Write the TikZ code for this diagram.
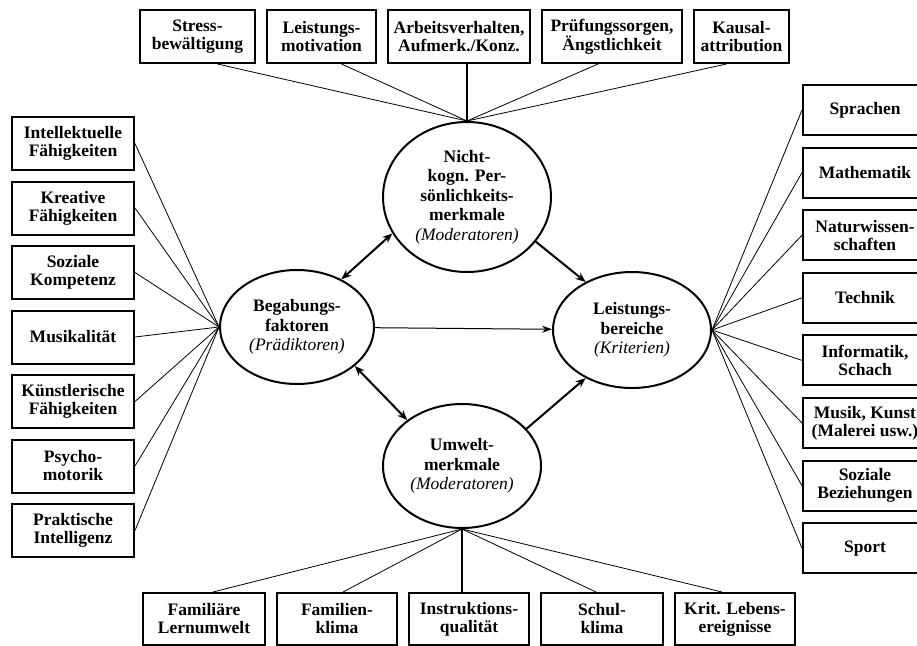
\documentclass[tikz,border=0pt]{standalone}
\usepackage{fontspec}
\setmainfont{Liberation Serif}
\usetikzlibrary{shapes.geometric, arrows.meta, positioning, calc}

\newcommand{\rolle}[1]{{\mdseries\itshape(#1)}}

\begin{document}
\begin{tikzpicture}[
        x=1pt, y=-1pt,
        node distance=10pt,
        box/.style={rectangle, draw, line width=2pt, minimum height=53pt, inner sep=2pt, align=center, font=\fontsize{17.5}{18}\selectfont\bfseries},
        lbox/.style={box, minimum width=122pt},
        rbox/.style={box, minimum width=124pt, minimum height=50pt},
        bbox/.style={box, minimum height=52pt},
        oval/.style={ellipse, draw, line width=2pt, inner sep=0pt, align=center, font=\fontsize{17.5}{19.5}\selectfont\bfseries},
        link/.style={line width=0.8pt},
        mainlink/.style={line width=2pt},
        arr/.style={line width=2pt, -{Stealth[length=10pt, width=8pt]}},
        darr/.style={line width=2pt, {Stealth[length=10pt, width=8pt]}-{Stealth[length=10pt, width=8pt]}}
    ]
        \useasboundingbox (0,0) rectangle (917,645);
        \clip (0,0) rectangle (917,645);

        % the four main factors
        \node[oval, minimum width=168pt, minimum height=150pt] (nk) at (467,197) {Nicht-\\kogn. Per-\\sönlichkeits-\\merkmale\\\rolle{Moderatoren}};
        \node[oval, minimum width=154pt, minimum height=114pt] (beg) at (297,327) {Begabungs-\\faktoren\\\rolle{Prädiktoren}};
        \node[oval, minimum width=158pt, minimum height=116pt] (leis) at (632,330) {Leistungs-\\bereiche\\\rolle{Kriterien}};
        \node[oval, minimum width=158pt, minimum height=124pt] (umw) at (462,466) {Umwelt-\\merkmale\\\rolle{Moderatoren}};

        % top row
        \node[box, minimum width=115pt] (stress) at (197.5,36.5) {Stress-\\bewältigung};
        \node[box, minimum width=109pt, right=of stress] (motiv) {Leistungs-\\motivation};
        \node[box, minimum width=142pt, right=of motiv] (arbeit) {Arbeitsverhalten,\\Aufmerk./Konz.};
        \node[box, minimum width=140pt, right=of arbeit] (pruef) {Prüfungssorgen,\\Ängstlichkeit};
        \node[box, minimum width=95pt, right=of pruef] (kausal) {Kausal-\\attribution};

        % left column
        \node[lbox] (intell) at (73,143.5) {Intellektuelle\\Fähigkeiten};
        \node[lbox, below=9.5pt of intell] (kreativ) {Kreative\\Fähigkeiten};
        \node[lbox, below=9.5pt of kreativ] (sozkomp) {Soziale\\Kompetenz};
        \node[lbox, below=9.5pt of sozkomp] (musik) {Musikalität};
        \node[lbox, below=9.5pt of musik] (kuenst) {Künstlerische\\Fähigkeiten};
        \node[lbox, below=9.5pt of kuenst] (psycho) {Psycho-\\motorik};
        \node[lbox, below=9.5pt of psycho] (prakt) {Praktische\\Intelligenz};

        % right column
        \node[rbox] (sprach) at (865,110) {Sprachen};
        \node[rbox, below=10.6pt of sprach] (mathe) {Mathematik};
        \node[rbox, below=10.6pt of mathe] (natur) {Naturwissen-\\schaften};
        \node[rbox, below=10.6pt of natur] (technik) {Technik};
        \node[rbox, below=10.6pt of technik] (inform) {Informatik,\\Schach};
        \node[rbox, below=10.6pt of inform] (kunst) {Musik, Kunst\\(Malerei usw.)};
        \node[rbox, below=10.6pt of kunst] (sozbez) {Soziale\\Beziehungen};
        \node[rbox, below=10.6pt of sozbez] (sport) {Sport};

        % bottom row
        \node[bbox, minimum width=122pt] (famlern) at (204,619) {Familiäre\\Lernumwelt};
        \node[bbox, minimum width=120pt, right=of famlern] (famklima) {Familien-\\klima};
        \node[bbox, minimum width=120pt, right=of famklima] (instr) {Instruktions-\\qualität};
        \node[bbox, minimum width=122pt, right=of instr] (schul) {Schul-\\klima};
        \node[bbox, minimum width=120pt, right=of schul] (krit) {Krit. Lebens-\\ereignisse};

        % fan-in lines
        \foreach \b/\dx in {stress/20, motiv/20, pruef/-14, kausal/-15}
            \draw[link] ([xshift=\dx pt]\b.south) -- (nk.north);
        \draw[mainlink] (nk.north |- arbeit.south) -- (nk.north);

        \foreach \b in {intell, kreativ, sozkomp, musik, kuenst, psycho, prakt}
            \draw[link] (\b.east) -- (beg.west);

        \foreach \b in {sprach, mathe, natur, technik, inform, kunst, sozbez, sport}
            \draw[link] (\b.west) -- (leis.east);

        \foreach \b/\dx in {famlern/9, famklima/6, schul/-6, krit/-13}
            \draw[link] ([xshift=\dx pt]\b.north) -- (umw.south);
        \draw[mainlink] (umw.south |- instr.north) -- (umw.south);

        % relations between the factors
        \draw[darr] (beg.47) -- (nk.206);
        \draw[arr] (nk.-33) -- (leis.134);
        \draw[line width=1pt, -{Stealth[length=10pt, width=7pt]}] (beg) -- (leis);
        \draw[darr] (beg.-34) -- (umw.140);
        \draw[arr] (umw.30) -- (leis.226);
    \end{tikzpicture}
\end{document}
